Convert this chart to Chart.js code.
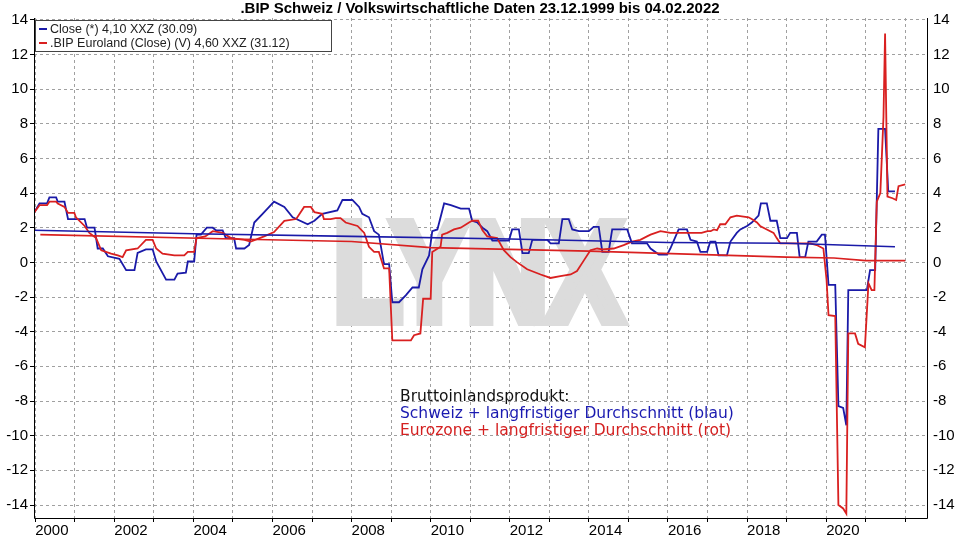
<!DOCTYPE html>
<html><head><meta charset="utf-8">
<script src="https://cdn.jsdelivr.net/npm/chart.js@4.4.1/dist/chart.umd.min.js"></script>
<style>html,body{margin:0;padding:0;background:#fff}#w{width:960px;height:540px;position:relative}</style>
</head><body><div id="w"><canvas id="c"></canvas></div>
<script>
const titleText = '.BIP Schweiz / Volkswirtschaftliche Daten 23.12.1999 bis 04.02.2022';
const seriesNames = ['Close (*) 4,10 XXZ (30.09)', '.BIP Euroland (Close) (V) 4,60 XXZ (31.12)'];
const yTicks = [-14,-12,-10,-8,-6,-4,-2,0,2,4,6,8,10,12,14];
const yearLabels = [2000,2002,2004,2006,2008,2010,2012,2014,2016,2018,2020];

const chX = [1999.98,2000.11,2000.3,2000.36,2000.53,2000.57,2000.74,2000.83,2001.25,2001.31,2001.5,2001.58,2001.71,2001.84,2002.13,2002.3,2002.51,2002.59,2002.8,2002.97,2003.06,2003.31,2003.52,2003.6,2003.81,2003.86,2004.02,2004.08,2004.19,2004.34,2004.49,2004.57,2004.74,2004.82,2005.03,2005.08,2005.29,2005.41,2005.54,2005.75,2006.04,2006.3,2006.51,2006.89,2007.06,2007.26,2007.64,2007.77,2008.02,2008.19,2008.27,2008.44,2008.57,2008.69,2008.82,2008.95,2009.03,2009.2,2009.37,2009.54,2009.7,2009.79,2009.96,2010.04,2010.17,2010.34,2010.51,2010.76,2010.97,2011.05,2011.18,2011.31,2011.43,2011.56,2011.98,2012.06,2012.23,2012.32,2012.48,2012.57,2012.95,2013.03,2013.24,2013.33,2013.49,2013.58,2013.75,2014.0,2014.12,2014.25,2014.34,2014.5,2014.59,2014.97,2015.09,2015.47,2015.56,2015.77,2015.98,2016.06,2016.27,2016.48,2016.57,2016.73,2016.82,2016.99,2017.07,2017.2,2017.28,2017.49,2017.58,2017.74,2017.83,2018.0,2018.12,2018.29,2018.35,2018.5,2018.59,2018.75,2018.84,2019.01,2019.09,2019.26,2019.33,2019.47,2019.55,2019.76,2019.89,2019.97,2020.06,2020.23,2020.31,2020.43,2020.51,2020.56,2021.03,2021.11,2021.24,2021.32,2021.49,2021.57,2021.74];
const chY = [2.9,3.4,3.4,3.75,3.75,3.5,3.5,2.5,2.5,2.0,2.0,0.8,0.8,0.35,0.2,-0.45,-0.45,0.55,0.75,0.75,0.05,-1.0,-1.0,-0.65,-0.6,0.05,0.05,1.6,1.6,2.0,2.0,1.85,1.85,1.4,1.4,0.8,0.8,1.0,2.3,2.8,3.5,3.2,2.6,2.2,2.4,2.8,3.0,3.6,3.6,3.2,2.8,2.6,1.8,1.6,-0.1,-0.1,-2.3,-2.3,-1.9,-1.45,-1.45,-0.4,0.4,1.8,1.9,3.4,3.3,3.1,3.1,2.4,2.3,2.0,1.8,1.26,1.26,1.9,1.9,0.53,0.53,1.3,1.3,1.1,1.1,2.5,2.5,1.9,1.8,1.8,2.05,2.05,0.6,0.6,1.9,1.9,1.1,1.1,0.8,0.45,0.45,0.8,1.9,1.9,1.3,1.2,0.6,0.6,1.2,1.2,0.4,0.4,1.2,1.7,1.9,2.1,2.3,2.7,3.4,3.4,2.4,2.4,1.4,1.4,1.7,1.7,0.3,0.3,1.2,1.2,1.6,1.6,-1.3,-1.3,-8.3,-8.4,-9.4,-1.6,-1.6,-0.45,-0.45,7.7,7.7,4.1,4.1];

const euX = [1999.98,2000.11,2000.3,2000.36,2000.53,2000.57,2000.74,2000.83,2000.99,2001.03,2001.25,2001.37,2001.54,2001.67,2001.92,2002.09,2002.21,2002.3,2002.59,2002.8,2002.97,2003.06,2003.22,2003.52,2003.77,2003.86,2004.02,2004.08,2004.3,2004.49,2004.74,2004.95,2005.29,2005.45,2005.79,2006.04,2006.3,2006.6,2006.8,2006.97,2007.06,2007.26,2007.3,2007.47,2007.6,2007.72,2007.85,2008.15,2008.32,2008.44,2008.57,2008.69,2008.82,2008.95,2009.03,2009.5,2009.58,2009.74,2009.81,2010.0,2010.04,2010.25,2010.29,2010.42,2010.59,2010.76,2010.97,2011.05,2011.2,2011.31,2011.43,2011.68,2011.85,2012.02,2012.19,2012.44,2012.78,2013.03,2013.28,2013.54,2013.7,2013.87,2014.04,2014.21,2014.34,2014.63,2014.88,2015.09,2015.3,2015.47,2015.56,2015.81,2016.06,2016.85,2017.0,2017.08,2017.16,2017.24,2017.32,2017.45,2017.58,2017.74,2018.04,2018.16,2018.25,2018.33,2018.5,2018.67,2018.75,2018.84,2019.01,2019.35,2019.6,2019.76,2019.93,2020.01,2020.06,2020.23,2020.31,2020.43,2020.51,2020.56,2020.73,2020.81,2020.98,2021.07,2021.15,2021.22,2021.28,2021.37,2021.45,2021.49,2021.55,2021.68,2021.77,2021.83,2022.0];
const euY = [2.9,3.3,3.3,3.5,3.5,3.4,3.2,2.85,2.85,2.6,2.1,1.7,1.4,0.7,0.5,0.4,0.3,0.7,0.8,1.3,1.3,0.8,0.5,0.4,0.4,0.6,0.6,1.4,1.5,1.8,1.7,1.4,1.3,1.2,1.5,1.75,2.4,2.5,3.2,3.2,2.9,2.8,2.5,2.5,2.55,2.55,2.3,2.1,1.7,0.9,0.6,0.6,-0.35,-0.35,-4.5,-4.5,-4.2,-4.1,-2.1,-2.1,0.6,0.9,1.6,1.7,1.9,2.0,2.3,2.4,2.4,1.85,1.5,1.4,0.7,0.3,0.0,-0.4,-0.7,-0.9,-0.8,-0.7,-0.5,0.1,0.7,0.8,0.75,0.8,1.0,1.2,1.3,1.5,1.6,1.8,1.7,1.7,1.8,1.8,1.9,1.85,2.2,2.2,2.6,2.7,2.6,2.45,2.3,2.1,1.9,1.7,1.4,1.1,1.1,1.1,1.1,1.0,0.8,-1.0,-3.05,-3.1,-14.0,-14.2,-14.5,-4.1,-4.1,-4.7,-4.9,-1.2,-1.6,-1.6,3.5,4.0,8.4,13.2,3.8,3.7,3.6,4.4,4.5];

const chAvgX = [1999.98,2004,2008,2012,2016,2019,2021.74];
const chAvgY = [1.85,1.65,1.5,1.35,1.15,1.1,0.9];
const euAvgX = [2000.13,2005,2008,2010,2014,2019,2020.2,2021,2022];
const euAvgY = [1.6,1.35,1.2,0.85,0.65,0.3,0.25,0.1,0.1];

const pts = (xs, ys) => xs.map((x, i) => ({x, y: ys[i]}));
const BLUE = '#1a1aa8', RED = '#d92020';
const FONT = '"Liberation Sans", Arial, sans-serif';

const deco = {
  id: 'deco',
  beforeDatasetsDraw(chart) {
    const {ctx} = chart;
    ctx.save();
    ctx.fillStyle = '#dcdcdc'; ctx.strokeStyle = '#dcdcdc';
    ctx.lineWidth = 12; ctx.lineJoin = 'miter';
    ctx.font = 'bold 140px ' + FONT;
    ctx.textAlign = 'center'; ctx.textBaseline = 'alphabetic';
    ctx.translate(478, 320); ctx.scale(0.8, 1);
    ctx.fillText('LYNX', 0, 0);
    ctx.strokeText('LYNX', 0, 0);
    ctx.restore();
  },
  afterDatasetsDraw(chart) {
    const {ctx, chartArea: a} = chart;
    ctx.save();
    ctx.strokeStyle = '#000'; ctx.lineWidth = 1;
    ctx.beginPath();
    ctx.moveTo(a.left + 0.5, a.top); ctx.lineTo(a.left + 0.5, a.bottom + 0.5);
    ctx.lineTo(a.right + 0.5, a.bottom + 0.5); ctx.lineTo(a.right + 0.5, a.top);
    ctx.stroke();
    ctx.fillStyle = '#000'; ctx.font = 'bold 15px ' + FONT;
    ctx.textAlign = 'center'; ctx.textBaseline = 'middle';
    ctx.fillText(titleText, 480, 9);
    ctx.fillStyle = '#fff'; ctx.fillRect(a.left + 1, 20, 296, 31);
    ctx.strokeStyle = '#444'; ctx.strokeRect(a.left + 1.5, 20.5, 296, 31);
    ctx.font = '12.5px ' + FONT; ctx.textAlign = 'left';
    [[BLUE, seriesNames[0], 29], [RED, seriesNames[1], 43]].forEach(([c, t, y]) => {
      ctx.strokeStyle = c; ctx.lineWidth = 2;
      ctx.beginPath(); ctx.moveTo(a.left + 5, y); ctx.lineTo(a.left + 13, y); ctx.stroke();
      ctx.fillStyle = '#222'; ctx.fillText(t, a.left + 16, y + 1);
    });
    ctx.font = '15.5px "DejaVu Sans", Verdana, sans-serif'; ctx.textBaseline = 'alphabetic';
    ctx.fillStyle = '#111'; ctx.fillText('Bruttoinlandsprodukt:', 400, 401);
    ctx.fillStyle = '#1a1ab0'; ctx.fillText('Schweiz + langfristiger Durchschnitt (blau)', 400, 418);
    ctx.fillStyle = '#d42020'; ctx.fillText('Eurozone + langfristiger Durchschnitt (rot)', 400, 435);
    ctx.restore();
  }
};

const yScale = (pos) => ({
  type: 'linear', position: pos, min: -14.75, max: 14.1,
  afterBuildTicks: s => { s.ticks = yTicks.map(v => ({value: v})); },
  afterFit: s => { s.width = pos === 'left' ? 34 : 33; },
  grid: { display: pos === 'left', color: '#a0a0a0', lineWidth: 1, drawTicks: true, tickLength: 4, tickColor: '#000' },
  border: { display: false, dash: [3,3] },
  ticks: { color: '#000', font: { size: 15, family: FONT }, padding: 2 }
});

new Chart(document.getElementById('c'), {
  type: 'line',
  data: { datasets: [
    { data: pts(chAvgX, chAvgY), borderColor: BLUE, borderWidth: 1.6 },
    { data: pts(euAvgX, euAvgY), borderColor: RED, borderWidth: 1.6 },
    { data: pts(euX, euY), borderColor: RED, borderWidth: 1.8 },
    { data: pts(chX, chY), borderColor: BLUE, borderWidth: 1.8 }
  ]},
  plugins: [deco],
  options: {
    responsive: true, maintainAspectRatio: false, animation: false,
    layout: { padding: { top: 18, left: 0, right: 0, bottom: 0 } },
    elements: { point: { radius: 0 }, line: { tension: 0 } },
    plugins: { legend: { display: false }, tooltip: { enabled: false } },
    scales: {
      x: {
        type: 'linear', min: 1999.97, max: 2022.55,
        afterBuildTicks: s => { const t = []; for (let y = 2000; y <= 2022; y++) t.push({value: y}); s.ticks = t; },
        afterFit: s => { s.height = 22; },
        grid: { color: '#a0a0a0', tickLength: 4, tickColor: '#000' },
        border: { display: false, dash: [3,3] },
        ticks: { color: '#000', align: 'start', maxRotation: 0, autoSkip: false, padding: 0,
          font: { size: 15, family: FONT },
          callback: v => yearLabels.includes(v) ? String(v) : '' }
      },
      y: yScale('left'),
      y2: yScale('right')
    }
  }
});
</script></body></html>
